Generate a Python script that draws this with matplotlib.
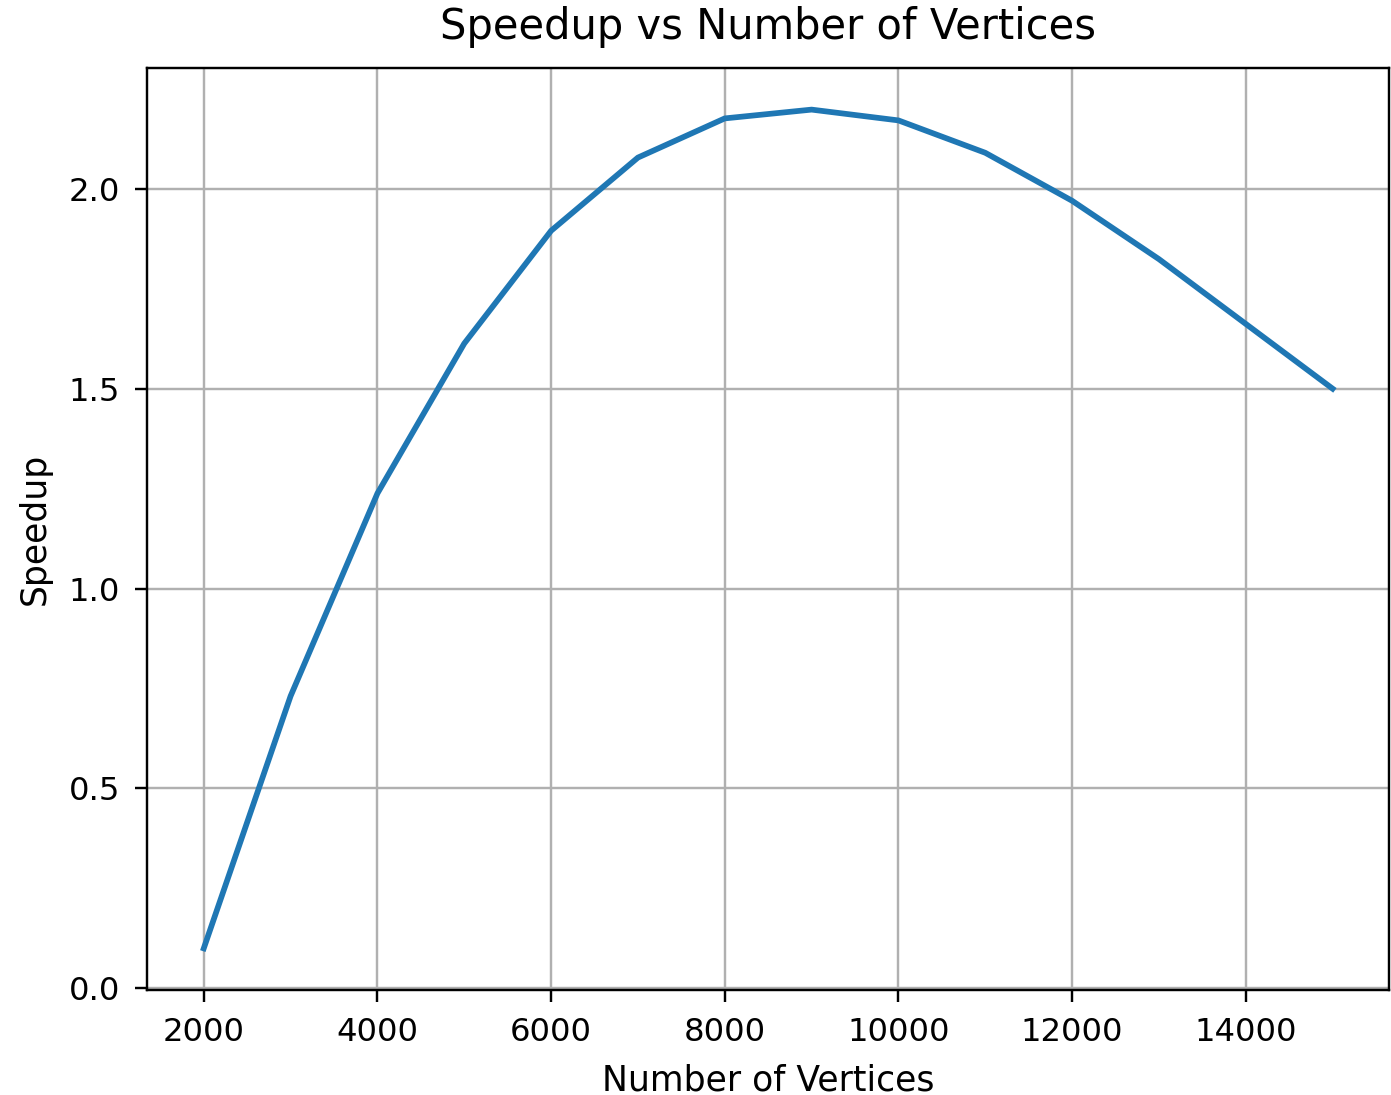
import matplotlib
matplotlib.use('Agg')
import matplotlib.pyplot as plt

# Speedup measured for each graph size
vertices = [2000, 3000, 4000, 5000, 6000, 7000, 8000, 9000,
            10000, 11000, 12000, 13000, 14000, 15000]
speedup = [0.10, 0.731, 1.238, 1.613, 1.895, 2.078, 2.176, 2.198,
           2.171, 2.090, 1.970, 1.824, 1.662, 1.50]

fig = plt.figure(figsize=(1391 / 217, 1095 / 217), dpi=217)
ax = fig.add_axes([0.1059, 0.0956, 0.8927, 0.8426])

ax.plot(vertices, speedup, color='#1f77b4', linewidth=1.9)
ax.set_title('Speedup vs Number of Vertices', fontsize=13.8, pad=9.5)
ax.set_xlabel('Number of Vertices', fontsize=11.5, labelpad=5)
ax.set_ylabel('Speedup', fontsize=11.5, labelpad=5.5)
ax.tick_params(labelsize=10.7, length=4, pad=5)
ax.grid(True)

fig.savefig('out.png', dpi=217)
